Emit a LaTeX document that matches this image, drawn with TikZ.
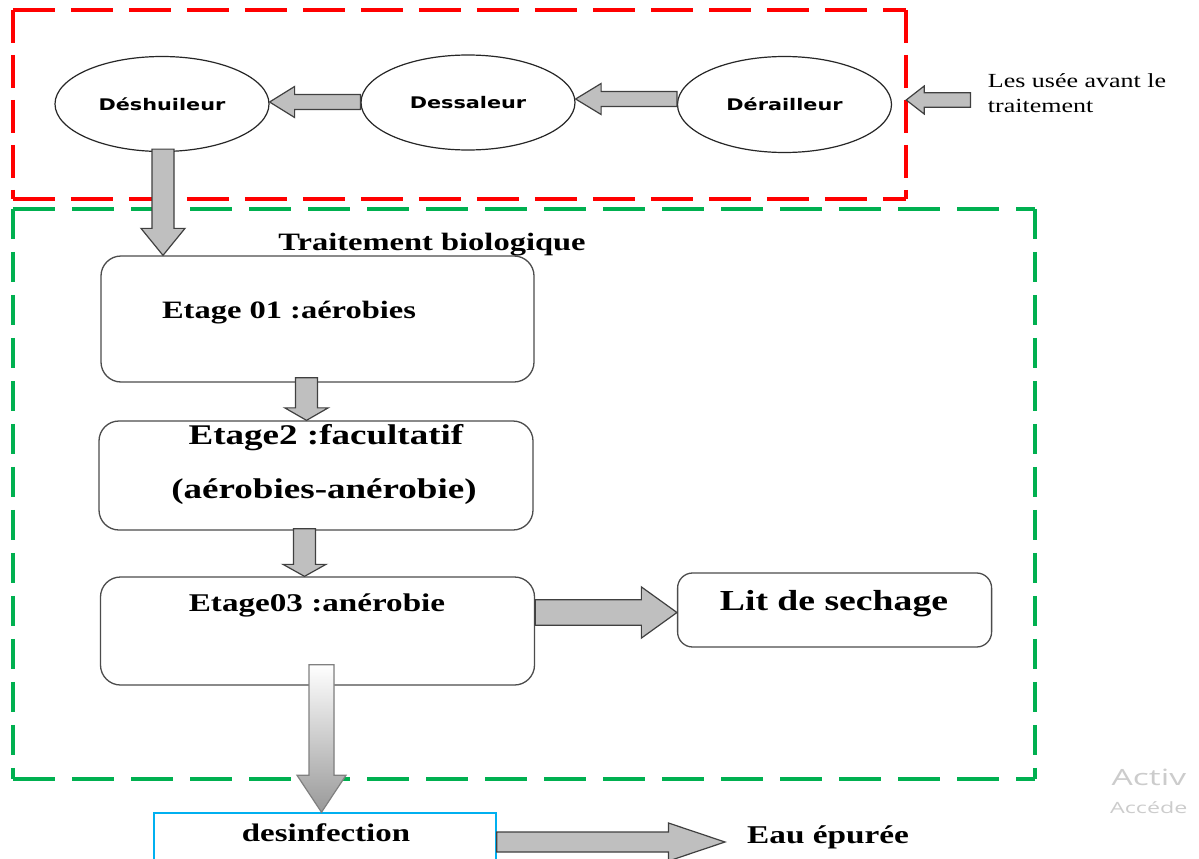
\documentclass[tikz,border=0pt]{standalone}
\usepackage{fontspec}
\setmainfont{Liberation Serif}
\newfontfamily\tnr[FakeStretch=1.3]{Liberation Serif}
\newfontfamily\dvs[FakeStretch=1.3]{DejaVu Sans}
\newfontfamily\osans[FakeStretch=1.5]{Open Sans}
\usetikzlibrary{calc,shapes.geometric}
\definecolor{rd}{HTML}{FF0000}
\definecolor{gn}{HTML}{00B050}
\definecolor{af}{HTML}{BFBFBF}
\definecolor{ao}{HTML}{404040}
\definecolor{cy}{HTML}{00B0F0}
\definecolor{wmk}{HTML}{CCCCCC}
% horizontal block arrow: #2 start, #3 tip, #4 shaft half, #5 head half, #6 signed head length
\newcommand\harrow[6][]{\draw[blk,#1] let \p1=(#2), \p2=(#3) in
 (\x1,{\y1+#4pt}) -- ({\x2-#6pt},{\y1+#4pt}) -- ({\x2-#6pt},{\y1+#5pt}) -- (\x2,\y1)
 -- ({\x2-#6pt},{\y1-#5pt}) -- ({\x2-#6pt},{\y1-#4pt}) -- (\x1,{\y1-#4pt}) -- cycle;}
% vertical block arrow (canvas y): signed head length
\newcommand\varrow[6][]{\draw[blk,#1] let \p1=(#2), \p2=(#3) in
 ({\x1+#4pt},\y1) -- ({\x1+#4pt},{\y2-#6pt}) -- ({\x1+#5pt},{\y2-#6pt}) -- (\x1,\y2)
 -- ({\x1-#5pt},{\y2-#6pt}) -- ({\x1-#4pt},{\y2-#6pt}) -- ({\x1-#4pt},\y1) -- cycle;}
\tikzset{
 ell/.style={ellipse, draw=black!85, line width=1.2pt, inner sep=0pt,
   font=\dvs\bfseries\fontsize{16}{19}\selectfont},
 box/.style={draw=black!70, line width=1.3pt, rounded corners=20pt, inner sep=0pt},
 zone/.style={draw=none, inner sep=0pt},
 lbl/.style={inner sep=0pt, anchor=base},
 blk/.style={fill=af, draw=ao, line width=1.2pt, line join=miter},
 rdh/.style={draw=rd, line width=3.8pt, dash pattern=on 42pt off 16pt},
 rdv/.style={draw=rd, line width=3.8pt, dash pattern=on 33pt off 12pt},
 gnh/.style={draw=gn, line width=3.8pt, dash pattern=on 42pt off 17pt},
 gnv/.style={draw=gn, line width=3.8pt, dash pattern=on 30pt off 13pt},
}
\begin{document}
\begin{tikzpicture}[x=1pt,y=-1pt]
\useasboundingbox (0,0) rectangle (1199,859);
\clip (0,0) rectangle (1199,859);
\fill[white] (0,0) rectangle (1199,859);
% zones
\node[zone, minimum width=893pt, minimum height=189pt] (z1) at (459.5,104.5) {};
\node[zone, minimum width=1021pt, minimum height=570pt] (z2) at (524,494) {};
\draw[rdh] (z1.north west) -- (z1.north east);
\draw[rdh] (z1.south west) -- (z1.south east);
\draw[rdv] (z1.north west) -- (z1.south west);
\draw[rdv] (z1.north east) -- (z1.south east);
\draw[gnh] (z2.north west) -- (z2.north east);
\draw[gnh] (z2.south west) -- (z2.south east);
\draw[gnv] (z2.north west) -- (z2.south west);
\draw[gnv] (z2.north east) -- (z2.south east);
% ellipses
\node[ell, minimum width=214pt, minimum height=95pt] (desh) at (162,104) {Déshuileur};
\node[ell, minimum width=214pt, minimum height=95pt] (dess) at (468,102.5) {Dessaleur};
\node[ell, minimum width=214pt, minimum height=96pt] (derail) at (784.5,104.5) {Dérailleur};
% input text
\node[inner sep=0pt, anchor=north west, align=left, font=\tnr\fontsize{20}{24.4}\selectfont]
  (input) at (987.7,73.5) {Les usée avant le\\traitement};
\coordinate (inS) at (970.5,100);
% boxes
\node[box, minimum width=433pt, minimum height=126pt] (b1) at (317.5,319) {};
\node[box, minimum width=434pt, minimum height=109pt] (b2) at (316,475.5) {};
\node[box, minimum width=434pt, minimum height=108pt] (b3) at (317.5,631) {};
\node[box, rounded corners=15pt, minimum width=314pt, minimum height=74pt] (lit) at (834.6,610) {};
\node[draw=cy, line width=1.5pt, inner sep=0pt, minimum width=342pt, minimum height=64pt] (des) at (325,845) {};
% texts
\node[lbl, font=\tnr\bfseries\fontsize{25}{30}\selectfont] (bio) at (432,250.5) {Traitement biologique};
\node[lbl, font=\tnr\bfseries\fontsize{25}{30}\selectfont] (t1) at (289,318) {Etage 01 :aérobies};
\node[lbl, font=\tnr\bfseries\fontsize{28.5}{32}\selectfont] (t2a) at (326,444) {Etage2 :facultatif};
\node[lbl, font=\tnr\bfseries\fontsize{28.5}{32}\selectfont] (t2b) at (324,498) {(aérobies-anérobie)};
\node[lbl, font=\tnr\bfseries\fontsize{25.5}{30}\selectfont] (t3) at (317,611.7) {Etage03 :anérobie};
\node[lbl, font=\tnr\bfseries\fontsize{29}{33}\selectfont] (tl) at (834,610) {Lit de sechage};
\node[lbl, font=\tnr\bfseries\fontsize{25.3}{30}\selectfont] (td) at (326,841.7) {desinfection};
\node[lbl, anchor=base west, font=\tnr\bfseries\fontsize{25.6}{30}\selectfont] (eau) at (747,843) {Eau épurée};
% watermark (visible part)
\node[lbl, anchor=base west, text=wmk, font=\osans\fontsize{22.4}{26}\selectfont] (wm1) at (1111.5,785) {Activ};
\node[lbl, anchor=base west, text=wmk, font=\osans\fontsize{15.5}{18}\selectfont] (wm2) at (1110,813) {Accéde};
% arrows
\harrow{inS}{z1.east}{7.3}{14}{-18}
\harrow{$(derail.west)+(0,-5.5)$}{dess.east}{7.5}{15.5}{-25.5}
\harrow{$(dess.west)+(0,-0.5)$}{desh.east}{7.5}{15.5}{-25}
\varrow{$(desh.south)+(1,-3)$}{b1.north}{11}{22}{-27}
\varrow{$(b1.south)+(-11,-5)$}{b2.north}{11}{21.7}{-12.5}
\varrow{$(b2.south)+(-11.5,-2)$}{b3.north}{11}{21.5}{-12}
\harrow{$(b3.east)+(0,-18.5)$}{lit.west}{12.8}{25.6}{35.6}
\harrow{$(des.east)+(0,-3)$}{$(eau.west)+(-22,0)$}{10}{19}{56.5}
\varrow[draw=gray, top color=white, bottom color=gray!80]{$(b3.south)+(4,-21)$}{des.north}{12.5}{24.5}{-37}
\end{tikzpicture}
\end{document}
